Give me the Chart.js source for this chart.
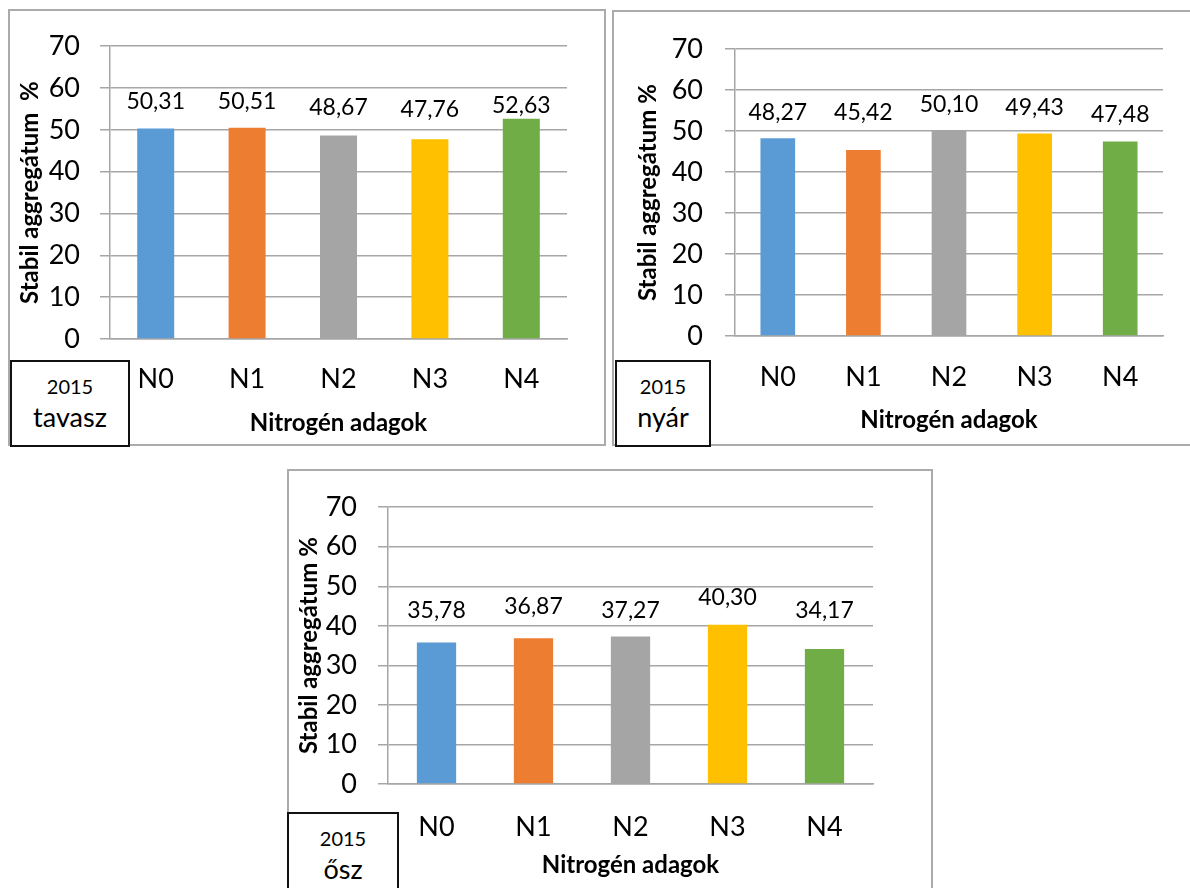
<!DOCTYPE html>
<html>
<head>
<meta charset="utf-8">
<script src="https://cdn.jsdelivr.net/npm/chart.js@4.4.1/dist/chart.umd.min.js"></script>
<style>
  html, body { margin: 0; padding: 0; background: #fff; overflow: hidden; }
  body { width: 1190px; height: 888px; position: relative; font-family: Lato, "Open Sans", sans-serif; color: #000; }
  .frame { position: absolute; box-sizing: border-box; border: 2px solid #ababab; }
  canvas { position: absolute; }
  .tag { position: absolute; box-sizing: border-box; border: 2px solid #111; background: #fff; }
  .tag span { position: absolute; left: 0; right: 0; text-align: center; line-height: 1; white-space: nowrap; }
  .tag .year { font-size: 20px; }
  .tag .season { font-size: 27px; }
</style>
</head>
<body>
<div class="frame" style="left:8px;top:9px;width:598px;height:437px"></div>
<div class="frame" style="left:612px;top:10px;width:600px;height:436px"></div>
<div class="frame" style="left:287px;top:469px;width:646px;height:500px"></div>

<canvas id="c1" width="597" height="435" style="left:9px;top:10px"></canvas>
<canvas id="c2" width="577" height="434" style="left:613px;top:11px"></canvas>
<canvas id="c3" width="644" height="418" style="left:288px;top:470px"></canvas>

<div class="tag" id="t1" style="left:10px;top:360px;width:120px;height:87px"></div>
<div class="tag" id="t2" style="left:615px;top:360px;width:96px;height:87px"></div>
<div class="tag" id="t3" style="left:287px;top:812px;width:112px;height:90px"></div>

<script>
// Stable aggregate share (%) per nitrogen dose, three sampling seasons of 2015
const categories = ['N0', 'N1', 'N2', 'N3', 'N4'];
const tavaszValues = [50.31, 50.51, 48.67, 47.76, 52.63];
const nyarValues = [48.27, 45.42, 50.10, 49.43, 47.48];
const oszValues = [35.78, 36.87, 37.27, 40.30, 34.17];
const yTicks = [0, 10, 20, 30, 40, 50, 60, 70];
const barColors = ['#5B9BD5', '#ED7D31', '#A5A5A5', '#FFC000', '#70AD47'];
const yTitles = ['Stabil aggregátum  %', 'Stabil aggregátum %', 'Stabil aggregátum %'];
const xTitle = 'Nitrogén adagok';
const seasonYear = '2015';
const seasons = ['tavasz', 'nyár', 'ősz'];

const FONT = 'Lato, "Open Sans", sans-serif';
const INK = '#000';
const GRID = '#a6a6a6';

Chart.defaults.font.family = FONT;
Chart.defaults.color = INK;

const fmt = v => v.toFixed(2).replace('.', ',');

// Value labels above each bar
const valueLabels = {
  id: 'valueLabels',
  afterDatasetsDraw(chart, args, opts) {
    const ctx = chart.ctx;
    const meta = chart.getDatasetMeta(0);
    const values = chart.data.datasets[0].data;
    ctx.save();
    ctx.font = opts.font;
    ctx.fillStyle = INK;
    ctx.textAlign = 'center';
    ctx.textBaseline = 'alphabetic';
    meta.data.forEach((bar, i) => {
      ctx.fillText(fmt(values[i]), bar.x, bar.y - opts.gaps[i]);
    });
    ctx.restore();
  }
};

// Per-panel layout: axis box sizes, paddings and label lifts
const panels = [
  { canvas: 'c1', tag: 't1', values: tavaszValues, yTitle: yTitles[0], season: seasons[0],
    axisW: 101, axisH: 106, padTop: 34, padRight: 39,
    yTitlePad: 7, yTickPad: 20, xTickPad: 24, xTitlePad: 7,
    gaps: [20, 19, 20, 22, 6] },
  { canvas: 'c2', tag: 't2', values: nyarValues, yTitle: yTitles[1], season: seasons[1],
    axisW: 122, axisH: 109, padTop: 37, padRight: 27,
    yTitlePad: 21, yTickPad: 22, xTickPad: 25, xTitlePad: 10,
    gaps: [18, 30, 19, 18, 19] },
  { canvas: 'c3', tag: 't3', values: oszValues, yTitle: yTitles[2], season: seasons[2],
    axisW: 100, axisH: 104, padTop: 24, padRight: 59,
    yTitlePad: 7, yTickPad: 21, xTickPad: 27, xTitlePad: 8,
    gaps: [25, 24, 19, 20, 31] }
];

panels.forEach(p => {
  const tag = document.getElementById(p.tag);
  tag.innerHTML = '<span class="year" style="top:14px">' + seasonYear + '</span>' +
                  '<span class="season" style="top:41px">' + p.season + '</span>';

  new Chart(document.getElementById(p.canvas), {
    type: 'bar',
    data: {
      labels: categories,
      datasets: [{
        data: p.values,
        backgroundColor: barColors,
        borderWidth: 0,
        categoryPercentage: 1,
        barPercentage: 0.405
      }]
    },
    plugins: [valueLabels],
    options: {
      responsive: false,
      animation: false,
      events: [],
      layout: { padding: { top: p.padTop, right: p.padRight, left: 0, bottom: 0 } },
      plugins: {
        legend: { display: false },
        tooltip: { enabled: false },
        valueLabels: { font: '23px ' + FONT, gaps: p.gaps }
      },
      scales: {
        x: {
          grid: { display: false, drawTicks: false },
          border: { display: true, color: GRID, width: 1.5 },
          ticks: { color: INK, font: { size: 27 }, padding: p.xTickPad, maxRotation: 0 },
          title: { display: true, text: xTitle, color: INK,
                   font: { size: 24, weight: 'bold' }, padding: { top: 0, bottom: p.xTitlePad } },
          afterFit: s => { s.height = p.axisH; }
        },
        y: {
          min: 0, max: 70,
          afterBuildTicks: s => { s.ticks = yTicks.map(v => ({ value: v })); },
          grid: { color: GRID, lineWidth: 1.5, tickLength: 10, drawTicks: true, tickColor: GRID },
          border: { display: true, color: GRID, width: 1.5 },
          ticks: { color: INK, font: { size: 27 }, padding: p.yTickPad },
          title: { display: true, text: p.yTitle, color: INK,
                   font: { size: 24, weight: 'bold' }, padding: { top: p.yTitlePad, bottom: 0 } },
          afterFit: s => { s.width = p.axisW; }
        }
      }
    }
  });
});
</script>
</body>
</html>
